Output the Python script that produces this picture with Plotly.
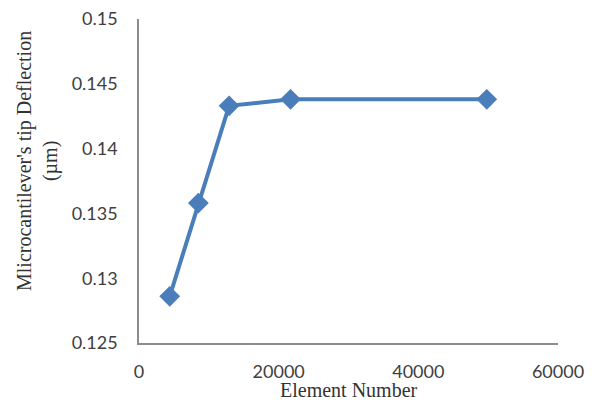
import plotly.graph_objects as go

element_number = [4400, 8500, 12900, 21700, 49800]
tip_deflection = [0.1286, 0.1358, 0.1433, 0.1438, 0.1438]
x_ticks = [0, 20000, 40000, 60000]
y_ticks = [0.125, 0.13, 0.135, 0.14, 0.145, 0.15]
y_tick_text = ["0.125", "0.13", "0.135", "0.14", "0.145", "0.15"]

fig = go.Figure()
fig.add_trace(go.Scatter(
    x=element_number, y=tip_deflection, mode="lines+markers",
    line=dict(color="#4a7ebb", width=4),
    marker=dict(symbol="diamond", size=16, color="#4a7ebb"),
    showlegend=False,
))

tick_font = dict(family="Lato, Open Sans, sans-serif", size=18, color="#404040")
title_font = dict(family="Liberation Serif, Times New Roman, serif", size=20, color="#333333")

fig.update_layout(
    width=592, height=400,
    margin=dict(l=139, r=34, t=19, b=57, autoexpand=False),
    paper_bgcolor="white", plot_bgcolor="white",
    xaxis=dict(range=[0, 60000], tickvals=x_ticks, ticktext=[str(v) for v in x_ticks],
               showgrid=False, zeroline=False, showline=True, linecolor="#8c8c8c", linewidth=1.5,
               ticks="outside", ticklen=12, tickcolor="rgba(0,0,0,0)", tickfont=tick_font,
               automargin=False),
    yaxis=dict(range=[0.125, 0.15], tickvals=y_ticks, ticktext=y_tick_text,
               showgrid=False, zeroline=False, showline=True, linecolor="#8c8c8c", linewidth=1.5,
               ticks="outside", ticklen=16, tickcolor="rgba(0,0,0,0)", tickfont=tick_font,
               automargin=False),
    annotations=[
        dict(text="Element Number", xref="paper", yref="paper", x=0.5, y=0, yshift=-47,
             showarrow=False, font=title_font, xanchor="center", yanchor="middle"),
        dict(text="Mlicrocantilever's tip Deflection<br>(µm)", xref="paper", yref="paper",
             x=0, xshift=-102, y=0.5, yshift=20, textangle=-90, showarrow=False,
             font=title_font, xanchor="center", yanchor="middle"),
    ],
)

fig.write_html("out.html", config={"displayModeBar": False},
               post_script="document.body.style.margin='0';document.body.style.overflow='hidden';")
